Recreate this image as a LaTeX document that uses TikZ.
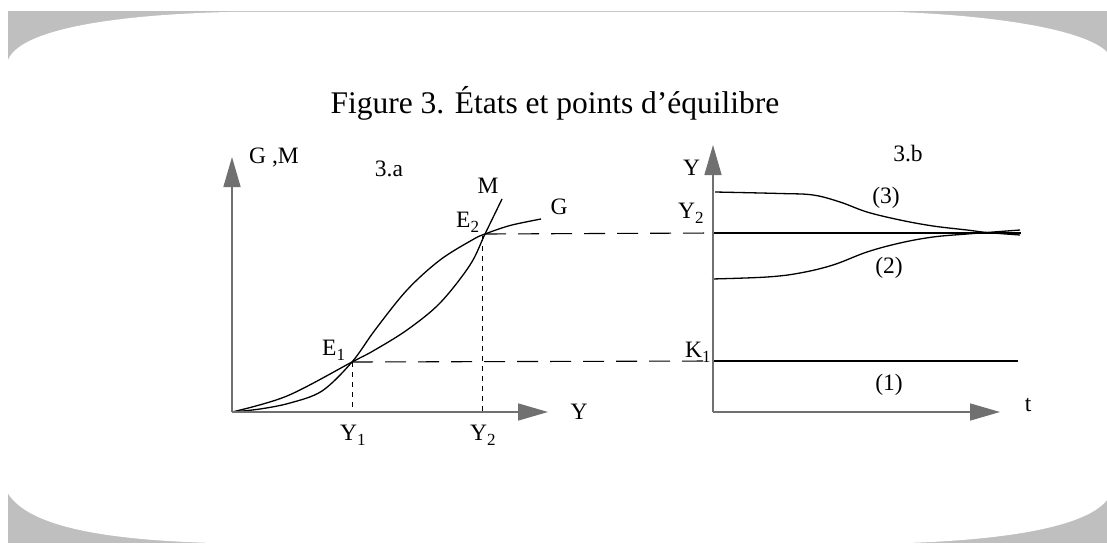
\documentclass[tikz,border=0pt]{standalone}
\usepackage{fontspec}
\setmainfont{Liberation Serif}
\usetikzlibrary{arrows.meta}
\definecolor{bggray}{RGB}{191,191,191}
\definecolor{axgray}{RGB}{112,112,112}
\newcommand{\sbx}[1]{\raisebox{-5pt}{\fontsize{17}{17}\selectfont #1}}
\begin{document}
\begin{tikzpicture}[x=1pt,y=-1pt,
  lbl/.style={inner sep=0pt, font=\fontsize{23.5}{24}\selectfont},
  axis/.style={draw=axgray, line width=1.5pt, -{Triangle[length=30pt,width=17pt,fill=axgray]}},
  curve/.style={line width=1.3pt, black},
  guide/.style={line width=1.1pt, dash pattern=on 21pt off 12pt},
  dotguide/.style={line width=1pt, dash pattern=on 5pt off 5pt}]
\useasboundingbox (0,0) rectangle (1107,543);
\fill[white] (0,0) rectangle (1107,543);
\fill[bggray] (8,11) rectangle (1107,543);
\fill[white] (228,12) -- (898,12) .. controls (1000,16) and (1085,30) .. (1107,52)
  -- (1107,500) .. controls (1085,528) and (1000,540) .. (907,543)
  -- (213,543) .. controls (110,540) and (25,528) .. (6,490)
  -- (8,60) .. controls (20,30) and (110,15) .. (228,12) -- cycle;

% coordinates
\coordinate (O1) at (232,412);
\coordinate (Ytop) at (232,157);
\coordinate (Xend) at (548,412);
\coordinate (E1) at (352,362);
\coordinate (E2) at (485,234);
\coordinate (Y1b) at (352,412);
\coordinate (Y2t) at (482,236);
\coordinate (Y2b) at (482,412);
\coordinate (O2) at (713,412);
\coordinate (Ttop) at (713,145);
\coordinate (Tend) at (1000,412);
\coordinate (K1a) at (713,361);
\coordinate (K1b) at (1018,361);
\coordinate (Y2a) at (714,233);
\coordinate (Y2e) at (1021,233);

% curves of 3.a
\draw[curve] plot[smooth, tension=0.55] coordinates {(232,412) (260,409) (290,403) (322,391) (352,362) (375,330) (407,290) (440,260) (473,239.5) (485,234) (510,225.5) (541,219)};
\draw[curve] plot[smooth, tension=0.55] coordinates {(232,412) (287,396) (352,362) (373,351) (407,330) (440,303) (470,265) (485,234) (502,199)};

% guides
\draw[guide] (E1) -- (K1a);
\draw[guide] (E2) -- (Y2a);
\draw[dotguide] (E1) -- (Y1b);
\draw[dotguide] (Y2t) -- (Y2b);

% lines of 3.b
\draw[curve] (K1a) -- (K1b);
\draw[curve] (Y2a) -- (Y2e);
\draw[curve] plot[smooth, tension=0.6] coordinates {(715,192) (780,193.5) (813,195) (840,202) (867,212) (900,220) (933,226) (967,230) (987,232.5) (1020,235)};
\draw[curve] plot[smooth, tension=0.6] coordinates {(712,279) (767,277) (800,273) (833,265) (867,252) (900,243) (933,237) (967,234) (987,232.5) (1020,230)};

% axes
\draw[axis] (O1) -- (Ytop);
\draw[axis] (O1) -- (Xend);
\draw[axis] (O2) -- (Ttop);
\draw[axis] (O2) -- (Tend);

% labels
\node[inner sep=0pt, anchor=base, font=\fontsize{31.5}{32}\selectfont] (title) at (555,113) {Figure 3. États et points d’équilibre};
\node[lbl] (lGM) at (274,158) {G ,M};
\node[lbl] (l3a) at (389,169) {3.a};
\node[lbl] (lM) at (488,186) {M};
\node[lbl] (lG) at (559,207) {G};
\node[lbl, anchor=base west] (lE2) at (456,227) {E\sbx{2}};
\node[lbl, anchor=base west] (lE1) at (322,355) {E\sbx{1}};
\node[lbl, anchor=base west] (lY1) at (340,440) {Y\sbx{1}};
\node[lbl, anchor=base west] (lY2) at (470,440) {Y\sbx{2}};
\node[lbl] (lY) at (579,412) {Y};
\node[lbl, anchor=base west] (lYr) at (683,175) {Y};
\node[lbl] (l3b) at (908,154) {3.b};
\node[lbl, anchor=base west] (lY2r) at (678,218) {Y\sbx{2}};
\node[lbl, anchor=base west] (lK1) at (685,357) {K\sbx{1}};
\node[lbl] (l3) at (886,198) {(3)};
\node[lbl] (l2) at (889,268) {(2)};
\node[lbl] (l1) at (889,385) {(1)};
\node[lbl] (lt) at (1028,405) {t};
\end{tikzpicture}
\end{document}
